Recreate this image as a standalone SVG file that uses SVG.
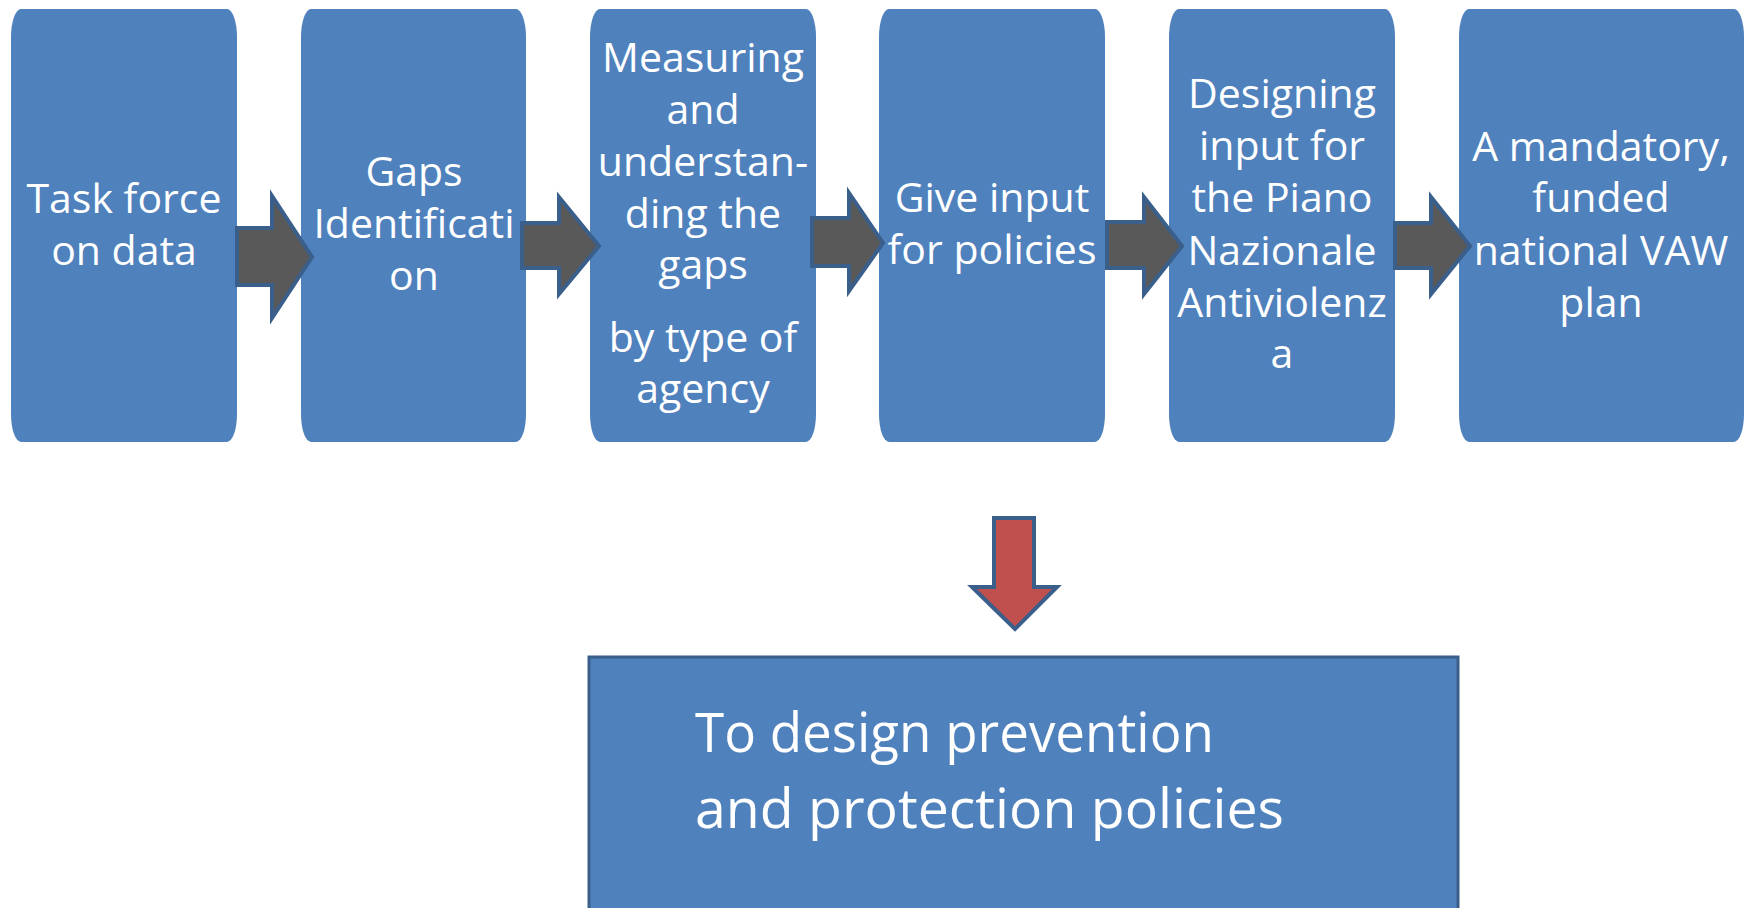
<svg xmlns="http://www.w3.org/2000/svg" width="1752" height="908" viewBox="0 0 1752 908">
<style>
.box{fill:#4F81BD;}
.t{font-family:"Open Sans","Noto Sans",sans-serif;font-size:41px;fill:#FFFFFF;text-anchor:middle;}
.tb{font-family:"Open Sans","Noto Sans",sans-serif;font-size:54px;fill:#FFFFFF;}
.arr{fill:#595959;stroke:#3A5F8B;stroke-width:4;stroke-linejoin:miter;}
.red{fill:#C0504D;stroke:#3A5F8B;stroke-width:4;stroke-linejoin:miter;}
</style>
<rect width="1752" height="908" fill="#FFFFFF"/>
<g id="node1">
<rect class="box" x="11" y="9" width="226" height="433" rx="10" ry="28"/>
<text class="t" x="124" y="213">Task force</text>
<text class="t" x="124" y="265">on data</text>
</g>
<g id="node2">
<rect class="box" x="301" y="9" width="225" height="433" rx="10" ry="28"/>
<text class="t" x="414" y="186">Gaps</text>
<text class="t" x="414" y="238">Identificati</text>
<text class="t" x="414" y="290">on</text>
</g>
<g id="node3">
<rect class="box" x="590" y="9" width="226" height="433" rx="10" ry="28"/>
<text class="t" x="703" y="72">Measuring</text>
<text class="t" x="703" y="124">and</text>
<text class="t" x="703" y="176">understan-</text>
<text class="t" x="703" y="228">ding the</text>
<text class="t" x="703" y="279">gaps</text>
<text class="t" x="703" y="352">by type of</text>
<text class="t" x="703" y="403">agency</text>
</g>
<g id="node4">
<rect class="box" x="879" y="9" width="226" height="433" rx="10" ry="28"/>
<text class="t" x="992" y="212">Give input</text>
<text class="t" x="992" y="264">for policies</text>
</g>
<g id="node5">
<rect class="box" x="1169" y="9" width="226" height="433" rx="10" ry="28"/>
<text class="t" x="1282" y="108">Designing</text>
<text class="t" x="1282" y="160">input for</text>
<text class="t" x="1282" y="212">the Piano</text>
<text class="t" x="1282" y="265">Nazionale</text>
<text class="t" x="1282" y="317">Antiviolenz</text>
<text class="t" x="1282" y="368">a</text>
</g>
<g id="node6">
<rect class="box" x="1459" y="9" width="285" height="433" rx="10" ry="28"/>
<text class="t" x="1601" y="161">A mandatory,</text>
<text class="t" x="1601" y="212">funded</text>
<text class="t" x="1601" y="265">national VAW</text>
<text class="t" x="1601" y="317">plan</text>
</g>
<g id="node7">
<rect x="589" y="657" width="869" height="270" fill="#4F81BD" stroke="#3A5F8B" stroke-width="3"/>
<text class="tb" x="695" y="752" textLength="519" lengthAdjust="spacingAndGlyphs">To design prevention</text>
<text class="tb" x="695" y="828" textLength="589" lengthAdjust="spacingAndGlyphs">and protection policies</text>
</g>
<g id="connectors">
<polygon class="arr" points="237,228 272,228 272,196 312,257 272,318 272,285 237,285"/>
<polygon class="arr" points="522,223 559,223 559,197 599,246 559,294 559,268 522,268"/>
<polygon class="arr" points="812,218 849,218 849,193 883,243 849,291 849,266 812,266"/>
<polygon class="arr" points="1107,222 1144,222 1144,197 1182,246 1144,294 1144,268 1107,268"/>
<polygon class="arr" points="1395,223 1431,223 1431,197 1470,246 1431,294 1431,268 1395,268"/>
<polygon class="red" points="994,518 1034,518 1034,587 1057,587 1015,629 972,587 994,587"/>
</g>
</svg>
